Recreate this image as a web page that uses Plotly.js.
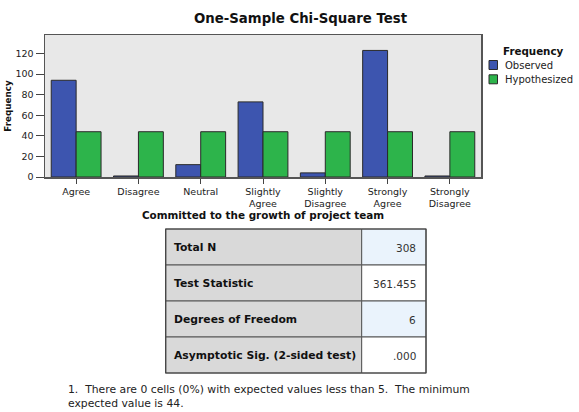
<!DOCTYPE html>
<html>
<head>
<meta charset="utf-8">
<script src="https://cdn.plot.ly/plotly-3.0.1.min.js"></script>
<style>html,body{margin:0;padding:0;background:#fff;}#chart{width:579px;height:412px;}</style>
</head>
<body>
<div id="chart"></div>
<script>
// ---- data ----
var categories = ['Agree', 'Disagree', 'Neutral', 'Slightly Agree', 'Slightly Disagree', 'Strongly Agree', 'Strongly Disagree'];
var tickLabels = ['Agree', 'Disagree', 'Neutral', 'Slightly<br>Agree', 'Slightly<br>Disagree', 'Strongly<br>Agree', 'Strongly<br>Disagree'];
var observed = [94, 1, 12, 73, 4, 123, 1];
var hypothesized = [44, 44, 44, 44, 44, 44, 44];
var seriesNames = ['Observed', 'Hypothesized'];
var seriesColors = ['#3D55AF', '#2DB44B'];
var yTicks = [0, 20, 40, 60, 80, 100, 120];
var statLabels = ['Total N', 'Test Statistic', 'Degrees of Freedom', 'Asymptotic Sig. (2-sided test)'];
var statValues = ['308', '361.455', '6', '.000'];
var footLines = ['1.  There are 0 cells (0%) with expected values less than 5.  The minimum',
                 'expected value is 44.'];

var W = 579, H = 412;
var FONT = 'DejaVu Sans';
function px(x) { return x / W; }
function py(y) { return 1 - y / H; }

var traces = [
  {type: 'bar', name: seriesNames[0], x: categories, y: observed, showlegend: false,
   marker: {color: seriesColors[0], line: {color: '#2a2a2a', width: 1}}, hoverinfo: 'skip'},
  {type: 'bar', name: seriesNames[1], x: categories, y: hypothesized, showlegend: false,
   marker: {color: seriesColors[1], line: {color: '#2a2a2a', width: 1}}, hoverinfo: 'skip'}
];

var shapes = [];
var annotations = [];

// legend (drawn manually to match spacing)
annotations.push({text: '<b>Frequency</b>', xref: 'paper', yref: 'paper', x: px(533.5), y: py(50.7),
  xanchor: 'center', yanchor: 'middle', showarrow: false, font: {family: FONT, size: 10.3, color: '#111'}});
var legY = [65, 79.3];
seriesNames.forEach(function (n, i) {
  shapes.push({type: 'rect', xref: 'paper', yref: 'paper', x0: px(489), x1: px(497.5),
    y0: py(legY[i] + 4.5), y1: py(legY[i] - 4.5), fillcolor: seriesColors[i], line: {color: '#2a2a2a', width: 1}});
  annotations.push({text: n, xref: 'paper', yref: 'paper', x: px(503), y: py(legY[i]),
    xanchor: 'left', yanchor: 'middle', showarrow: false, font: {family: FONT, size: 10, color: '#222'}});
});

// statistics table
var tLeft = 165.7, tSplit = 361.7, tRight = 426, tTop = 229, rowH = 36;
var rightFill = ['#EAF3FC', '#FFFFFF', '#EAF3FC', '#FFFFFF'];
statLabels.forEach(function (lab, i) {
  var y0 = tTop + i * rowH, y1 = y0 + rowH, yc = (y0 + y1) / 2;
  shapes.push({type: 'rect', xref: 'paper', yref: 'paper', x0: px(tLeft), x1: px(tSplit), y0: py(y1), y1: py(y0),
    fillcolor: '#D9D9D9', line: {color: '#555', width: 1}, layer: 'below'});
  shapes.push({type: 'rect', xref: 'paper', yref: 'paper', x0: px(tSplit), x1: px(tRight), y0: py(y1), y1: py(y0),
    fillcolor: rightFill[i], line: {color: '#555', width: 1}, layer: 'below'});
  annotations.push({text: '<b>' + lab + '</b>', xref: 'paper', yref: 'paper', x: px(tLeft + 6), y: py(yc + 0.5),
    xanchor: 'left', yanchor: 'middle', showarrow: false, font: {family: FONT, size: 10.8, color: '#111'}});
  annotations.push({text: statValues[i], xref: 'paper', yref: 'paper', x: px(tRight - 8.5), y: py(yc + 0.5),
    xanchor: 'right', yanchor: 'middle', showarrow: false, font: {family: FONT, size: 10.5, color: '#333'}});
});
// outer table border
shapes.push({type: 'rect', xref: 'paper', yref: 'paper', x0: px(tLeft), x1: px(tRight),
  y0: py(tTop + 4 * rowH), y1: py(tTop), line: {color: '#444', width: 1.2}, fillcolor: 'rgba(0,0,0,0)'});

// footnote (one text block, two lines)
annotations.push({text: footLines.join('<br>'), xref: 'paper', yref: 'paper', x: px(66), y: py(411.5),
  xanchor: 'left', yanchor: 'bottom', align: 'left', showarrow: false,
  font: {family: FONT, size: 10.8, color: '#222'}});

var layout = {
  width: W, height: H,
  margin: {l: 0, r: 0, t: 0, b: 0},
  paper_bgcolor: '#FFFFFF',
  plot_bgcolor: '#E8E8E8',
  barmode: 'group', bargap: 0.2, bargroupgap: 0,
  font: {family: FONT, color: '#222'},
  showlegend: false,
  title: {text: 'One-Sample Chi-Square Test', x: px(300.5), xanchor: 'center', xref: 'paper',
          y: py(18.5), yanchor: 'middle', yref: 'paper',
          font: {family: FONT, size: 13.3, weight: 700, color: '#111'}},
  xaxis: {domain: [px(45), px(481)], anchor: 'y', type: 'category', categoryarray: categories, categoryorder: 'array',
          tickmode: 'array', tickvals: categories, ticktext: tickLabels,
          ticks: 'outside', ticklen: 5, tickwidth: 1, tickcolor: '#444',
          tickfont: {family: FONT, size: 9.5, color: '#222'},
          showline: true, mirror: true, linecolor: '#555', linewidth: 1.5,
          showgrid: false, zeroline: false, fixedrange: true,
          title: {text: '<b>Committed to the growth of project team</b>', standoff: 2,
                  font: {family: FONT, size: 10.4, color: '#111'}}},
  yaxis: {domain: [py(177), py(35)], anchor: 'x', range: [0, 138],
          tickmode: 'array', tickvals: yTicks,
          ticks: 'outside', ticklen: 8, tickwidth: 1, tickcolor: '#444',
          tickfont: {family: FONT, size: 9.5, color: '#222'},
          showline: true, mirror: true, linecolor: '#555', linewidth: 1.5,
          showgrid: false, zeroline: false, fixedrange: true,
          title: {text: '<b>Frequency</b>', font: {family: FONT, size: 8.8, color: '#111'}}},
  shapes: shapes,
  annotations: annotations
};

Plotly.newPlot('chart', traces, layout, {displayModeBar: false, staticPlot: true});
</script>
</body>
</html>
